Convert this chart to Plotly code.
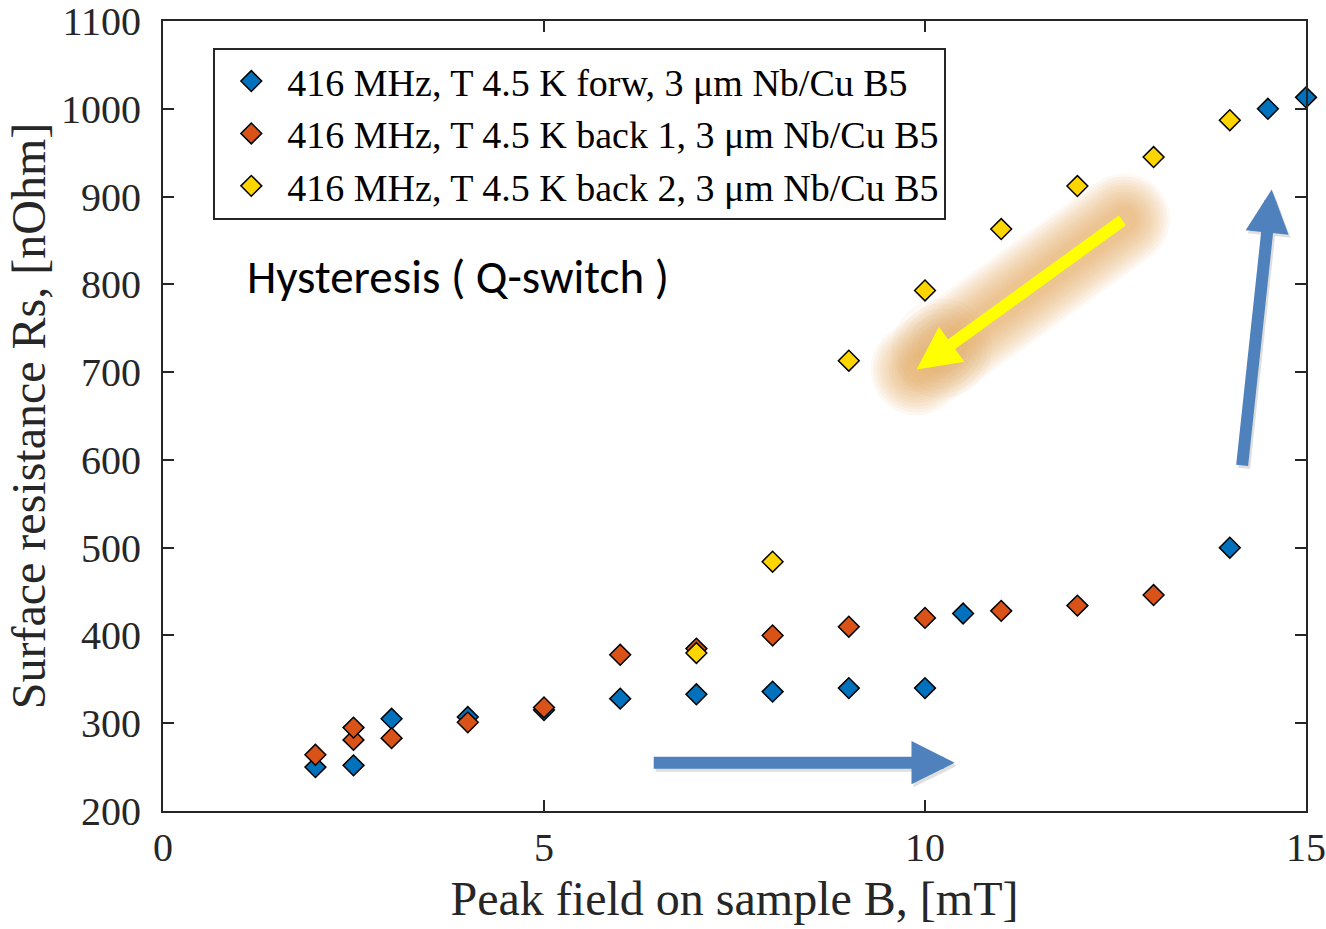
import math
import plotly.graph_objects as go

# Peak field B [mT] and surface resistance Rs [nOhm] for the three sweeps
b_forw = [2, 2.5, 3, 4, 5, 6, 7, 8, 9, 10, 10.5, 14, 14.5, 15]
rs_forw = [250, 252, 305, 307, 315, 328, 333, 336, 340, 340, 425, 500, 1000, 1013]

b_back1 = [2, 2.5, 2.5, 3, 4, 5, 6, 7, 8, 9, 10, 11, 12, 13]
rs_back1 = [264, 281, 295, 283, 301, 318, 378, 385, 400, 410, 420, 428, 434, 446]

b_back2 = [7, 8, 9, 10, 11, 12, 13, 14]
rs_back2 = [380, 484, 713, 793, 863, 912, 945, 987]

names = [
    "416 MHz, T 4.5 K forw, 3 \u03bcm Nb/Cu B5",
    "416 MHz, T 4.5 K back 1, 3 \u03bcm Nb/Cu B5",
    "416 MHz, T 4.5 K back 2, 3 \u03bcm Nb/Cu B5",
]
colors = ["#0072BD", "#D95319", "#FFD500"]

x_ticks = [0, 5, 10, 15]
y_ticks = [200, 300, 400, 500, 600, 700, 800, 900, 1000, 1100]

# Direction arrows: (tail_x, tail_y, tip_x, tip_y) in data units
arrow_forward = (6.42, 255, 10.39, 255)
arrow_jump = (14.16, 592, 14.55, 908)
arrow_return = (12.61, 874, 9.89, 703)

SERIF = "Liberation Serif, Times New Roman, serif"
AXIS_COLOR = "#262626"

W, H = 1326, 929
M_L, M_R, M_T, M_B = 163, 20, 21, 118
X_RANGE = [0, 15]
Y_RANGE = [200, 1100]
px_per_x = (W - M_L - M_R) / (X_RANGE[1] - X_RANGE[0])
px_per_y = (H - M_T - M_B) / (Y_RANGE[1] - Y_RANGE[0])

fig = go.Figure()

for bx, rs, name, col in [
    (b_forw, rs_forw, names[0], colors[0]),
    (b_back1, rs_back1, names[1], colors[1]),
    (b_back2, rs_back2, names[2], colors[2]),
]:
    fig.add_trace(go.Scatter(
        x=bx, y=rs, mode="markers", name=name,
        marker=dict(symbol="diamond", size=16, color=col,
                    line=dict(color="black", width=1.5)),
        cliponaxis=False,
    ))


def stadium_path(p0, p1, r, n=16):
    """Rounded capsule around the segment p0-p1 (pixel offsets, y up)."""
    (x0, y0), (x1, y1) = p0, p1
    ang = math.atan2(y1 - y0, x1 - x0)
    pts = []
    for i in range(n + 1):
        a = ang + math.pi / 2 + math.pi * i / n
        pts.append((x0 + r * math.cos(a), y0 + r * math.sin(a)))
    for i in range(n + 1):
        a = ang - math.pi / 2 + math.pi * i / n
        pts.append((x1 + r * math.cos(a), y1 + r * math.sin(a)))
    return "M " + " L ".join(f"{x:.1f},{y:.1f}" for x, y in pts) + " Z"


# Soft orange glow behind the return arrow, built from many faint capsules
tx, ty, hx, hy = arrow_return
mx, my = (tx + hx) / 2, (ty + hy) / 2
tail_px = ((tx - mx) * px_per_x, (ty - my) * px_per_y)
tip_px = ((hx - mx) * px_per_x, (hy - my) * px_per_y)
shapes = []
for r in range(46, 10, -3):
    shapes.append(dict(
        type="path", xref="x", yref="y", xsizemode="pixel", ysizemode="pixel",
        xanchor=mx, yanchor=my, path=stadium_path(tail_px, tip_px, r),
        fillcolor="rgba(222,155,80,0.075)", line=dict(width=0), layer="below",
    ))
# extra haze around the arrow head
for r in range(50, 20, -5):
    shapes.append(dict(
        type="circle", xref="x", yref="y", xsizemode="pixel", ysizemode="pixel",
        xanchor=hx + 0.33, yanchor=hy + 24, x0=-r, x1=r, y0=-r, y1=r,
        fillcolor="rgba(222,155,80,0.05)", line=dict(width=0), layer="below",
    ))

annotations = []


def add_arrow(spec, color, shadow=False):
    x0, y0, x1, y1 = spec
    if shadow:
        annotations.append(dict(
            x=x1, y=y1, ax=x0, ay=y0, xref="x", yref="y", axref="x", ayref="y",
            text="", showarrow=True, arrowhead=2, arrowsize=0.72, arrowwidth=12,
            arrowcolor="rgba(0,0,0,0.12)", xshift=2, yshift=-3,
        ))
    annotations.append(dict(
        x=x1, y=y1, ax=x0, ay=y0, xref="x", yref="y", axref="x", ayref="y",
        text="", showarrow=True, arrowhead=2, arrowsize=0.72, arrowwidth=12,
        arrowcolor=color,
    ))


add_arrow(arrow_forward, "#4F81BD", shadow=True)
add_arrow(arrow_jump, "#4F81BD", shadow=True)
add_arrow(arrow_return, "#FFFF00")

annotations.append(dict(
    x=1.07, y=808, xref="x", yref="y", xanchor="left", yanchor="middle",
    text="Hysteresis ( Q-switch )", showarrow=False,
    font=dict(family="Carlito, Lato, Open Sans, sans-serif", size=47, color="black"),
))

fig.update_layout(
    width=W, height=H,
    margin=dict(l=M_L, r=M_R, t=M_T, b=M_B, autoexpand=False),
    paper_bgcolor="white", plot_bgcolor="white",
    font=dict(family=SERIF, size=40, color=AXIS_COLOR),
    shapes=shapes,
    annotations=annotations,
    legend=dict(
        x=0.044, y=0.966, xanchor="left", yanchor="top",
        bgcolor="white", bordercolor=AXIS_COLOR, borderwidth=2,
        font=dict(family=SERIF, size=38, color="black"),
        itemwidth=62, tracegroupgap=0,
    ),
    xaxis=dict(
        range=X_RANGE, tickvals=x_ticks, ticktext=[str(v) for v in x_ticks],
        showgrid=False, zeroline=False, automargin=False,
        showline=True, linecolor=AXIS_COLOR, linewidth=2, mirror="ticks",
        ticks="inside", ticklen=11, tickwidth=1.5, tickcolor=AXIS_COLOR,
        tickfont=dict(family=SERIF, size=40, color=AXIS_COLOR),
        title=dict(text="Peak field on sample B, [mT]", standoff=12,
                   font=dict(family=SERIF, size=48, color=AXIS_COLOR)),
    ),
    yaxis=dict(
        range=Y_RANGE, tickvals=y_ticks, ticktext=[str(v) for v in y_ticks],
        showgrid=False, zeroline=False, automargin=False,
        showline=True, linecolor=AXIS_COLOR, linewidth=2, mirror="ticks",
        ticks="inside", ticklen=11, tickwidth=1.5, tickcolor=AXIS_COLOR,
        ticklabelstandoff=12, ticklabeloverflow="allow",
        tickfont=dict(family=SERIF, size=40, color=AXIS_COLOR),
        title=dict(text="Surface resistance Rs, [nOhm]", standoff=0,
                   font=dict(family=SERIF, size=48, color=AXIS_COLOR)),
    ),
)

fig.write_html("out.html")
